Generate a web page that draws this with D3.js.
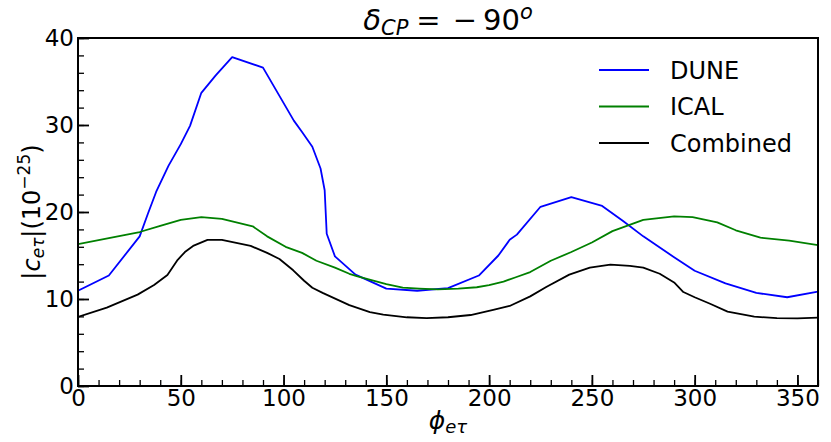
<!DOCTYPE html>
<html>
<head>
<meta charset="utf-8">
<script src="https://cdn.jsdelivr.net/npm/d3@7"></script>
<style>
  body { margin: 0; background: #fff; }
  svg text { font-family: "DejaVu Sans", sans-serif; fill: #000; }
</style>
</head>
<body>
<svg id="chart" width="831" height="442"></svg>
<script>
// curve data (phi in degrees, |c| in 1e-25)
var dune_phi = [0, 15, 30, 34, 38, 44, 50, 54.5, 60, 67, 75, 90, 105, 109, 114, 118, 120, 121, 125, 135, 150, 165, 180, 195, 204.5, 210, 213.5, 225, 240, 255, 265, 275, 285, 290, 300, 315, 330, 345, 360];
var dune_c   = [10.95, 12.7, 17.2, 19.8, 22.3, 25.3, 27.8, 29.9, 33.7, 35.7, 37.8, 36.6, 30.5, 29.2, 27.5, 25.0, 22.5, 17.5, 14.9, 12.8, 11.2, 10.95, 11.25, 12.7, 15.0, 16.8, 17.4, 20.6, 21.7, 20.7, 19.0, 17.2, 15.6, 14.8, 13.25, 11.8, 10.7, 10.2, 10.85];

var ical_phi = [0, 15, 30, 40, 50, 60, 70, 85, 92, 101, 109, 116, 125, 132, 136, 150, 158, 166, 175, 185, 194, 200, 207, 213, 220, 230, 240, 250, 260, 275, 290, 299, 311, 320, 332, 346, 360];
var ical_c   = [16.3, 17.0, 17.7, 18.4, 19.1, 19.4, 19.2, 18.35, 17.2, 16.0, 15.3, 14.4, 13.6, 12.9, 12.6, 11.7, 11.3, 11.2, 11.1, 11.2, 11.35, 11.6, 12.0, 12.5, 13.1, 14.4, 15.4, 16.5, 17.8, 19.1, 19.5, 19.4, 18.8, 17.9, 17.05, 16.7, 16.2];

var comb_phi = [0, 14, 29, 37, 43.5, 48.5, 52, 56, 63, 70, 84, 92, 98, 104.7, 110, 114, 119, 132, 142, 148.5, 160, 169.6, 180, 191, 202, 210, 220, 228, 239, 249, 259, 268.5, 275, 283, 290, 294.5, 300, 307.5, 316, 329, 340, 350, 360];
var comb_c   = [7.95, 9.0, 10.5, 11.6, 12.76, 14.5, 15.4, 16.1, 16.8, 16.8, 16.1, 15.3, 14.6, 13.3, 12.1, 11.3, 10.7, 9.3, 8.5, 8.2, 7.9, 7.8, 7.9, 8.16, 8.74, 9.2, 10.3, 11.4, 12.8, 13.6, 13.95, 13.8, 13.6, 12.9, 11.9, 10.8, 10.2, 9.45, 8.55, 7.97, 7.8, 7.78, 7.85];

var series_names = ['DUNE', 'ICAL', 'Combined'];
var series_colors = ['#0000ff', '#008000', '#000000'];

var x_ticks = [0, 50, 100, 150, 200, 250, 300, 350];
var y_ticks = [0, 10, 20, 30, 40];

var svg = d3.select('#chart');
var margin = {left: 78, right: 13, top: 38, bottom: 56};
var W = 831, H = 442;

var x = d3.scaleLinear().domain([0, 360]).range([margin.left, W - margin.right]);
var y = d3.scaleLinear().domain([0, 40]).range([H - margin.bottom, margin.top]);

var series = [
    {name: series_names[0], color: series_colors[0], phi: dune_phi, c: dune_c},
    {name: series_names[1], color: series_colors[1], phi: ical_phi, c: ical_c},
    {name: series_names[2], color: series_colors[2], phi: comb_phi, c: comb_c}
];

var line = d3.line()
    .x(function(d) { return x(d[0]); })
    .y(function(d) { return y(d[1]); });

// clip to plot area
svg.append('clipPath').attr('id', 'clip')
    .append('rect')
    .attr('x', x(0)).attr('y', y(40))
    .attr('width', x(360) - x(0)).attr('height', y(0) - y(40));

var g_lines = svg.append('g').attr('clip-path', 'url(#clip)');
series.forEach(function(s) {
    var pts = s.phi.map(function(p, i) { return [p, s.c[i]]; });
    g_lines.append('path')
        .attr('d', line(pts))
        .attr('fill', 'none')
        .attr('stroke', s.color)
        .attr('stroke-width', 1.8)
        .attr('stroke-linejoin', 'round');
});

// axes with inward ticks
var xAxis = d3.axisBottom(x).tickValues(x_ticks).tickSize(-11).tickPadding(3).tickFormat(d3.format('d'));
var xMinor = d3.axisBottom(x).tickValues(d3.range(0, 361, 10)).tickSize(-6).tickFormat('');
var yAxis = d3.axisLeft(y).tickValues(y_ticks).tickSize(-11).tickPadding(4).tickFormat(d3.format('d'));
var yMinor = d3.axisLeft(y).tickValues(d3.range(0, 41, 2)).tickSize(-6).tickFormat('');

function style_axis(g, w) {
    g.select('.domain').remove();
    g.selectAll('.tick line').attr('stroke', '#000').attr('stroke-width', w);
    g.selectAll('.tick text').style('font-size', '23px').attr('fill', '#000');
}

svg.append('g').attr('transform', 'translate(0,' + y(0) + ')').call(xMinor).call(style_axis, 1.3);
svg.append('g').attr('transform', 'translate(0,' + y(0) + ')').call(xAxis).call(style_axis, 1.8)
    .selectAll('.tick text').attr('dy', '0.72em');
svg.append('g').attr('transform', 'translate(' + x(0) + ',0)').call(yMinor).call(style_axis, 1.3);
svg.append('g').attr('transform', 'translate(' + x(0) + ',0)').call(yAxis).call(style_axis, 1.8);

// frame
svg.append('rect')
    .attr('x', x(0)).attr('y', y(40))
    .attr('width', x(360) - x(0)).attr('height', y(0) - y(40))
    .attr('fill', 'none').attr('stroke', '#000').attr('stroke-width', 2);

// title: delta_CP = -90^o
var title = svg.append('text')
    .attr('x', (x(0) + x(360)) / 2).attr('y', 30)
    .attr('text-anchor', 'middle').style('font-size', '29px');
title.append('tspan').style('font-style', 'italic').text('δ');
title.append('tspan').style('font-style', 'italic').style('font-size', '21px').attr('dy', 5).text('CP');
title.append('tspan').attr('dy', -5).attr('dx', 8).text('=');
title.append('tspan').attr('dx', 12).text('\u2212');
title.append('tspan').attr('dx', 6).text('90');
title.append('tspan').style('font-style', 'italic').style('font-size', '21px').attr('dy', -11).text('o');

// x label
var xl = svg.append('text')
    .attr('x', (x(0) + x(360)) / 2).attr('y', 429)
    .attr('text-anchor', 'middle').style('font-size', '25px');
xl.append('tspan').style('font-style', 'italic').text('ϕ');
xl.append('tspan').style('font-style', 'italic').style('font-size', '18px').attr('dy', 4).text('eτ');

// y label
var yl = svg.append('text')
    .attr('transform', 'translate(40,' + ((y(0) + y(40)) / 2) + ') rotate(-90)')
    .attr('text-anchor', 'middle').style('font-size', '24px');
yl.append('tspan').text('|');
yl.append('tspan').style('font-style', 'italic').text('c');
yl.append('tspan').style('font-style', 'italic').style('font-size', '17px').attr('dy', 4).text('eτ');
yl.append('tspan').attr('dy', -4).text('|(10');
yl.append('tspan').style('font-size', '17px').attr('dy', -10).text('\u221225');
yl.append('tspan').attr('dy', 10).text(')');

// legend
var legend = svg.append('g');
series.forEach(function(s, i) {
    var ly = 70 + i * 36.5;
    legend.append('line')
        .attr('x1', 599).attr('x2', 649).attr('y1', ly).attr('y2', ly)
        .attr('stroke', s.color).attr('stroke-width', 1.8);
    legend.append('text')
        .attr('x', 670).attr('y', ly).attr('dy', '0.36em')
        .style('font-size', '24px')
        .text(s.name);
});
</script>
</body>
</html>
